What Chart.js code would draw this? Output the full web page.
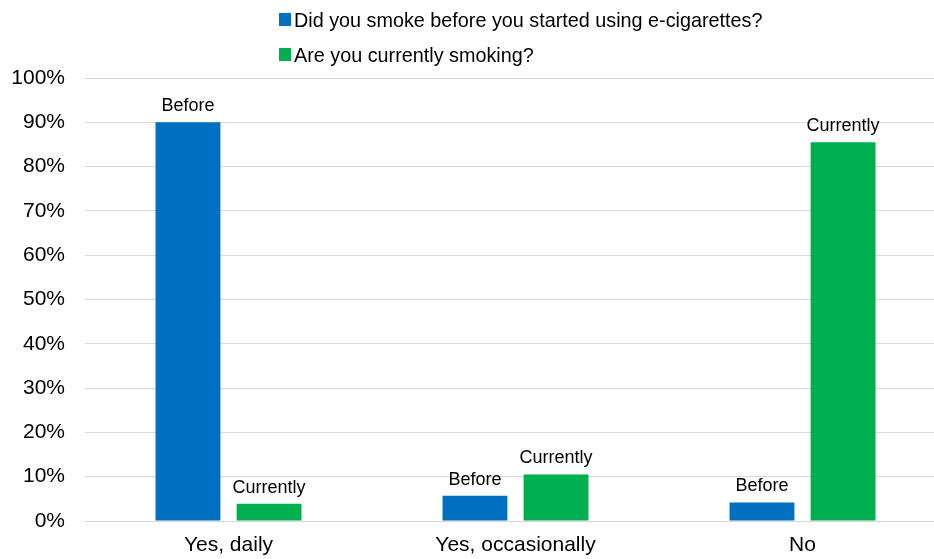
<!DOCTYPE html>
<html>
<head>
<meta charset="utf-8">
<script src="https://cdn.jsdelivr.net/npm/chart.js@4.4.1/dist/chart.umd.min.js"></script>
<style>
html,body{margin:0;padding:0;background:#fff;overflow:hidden;}
#wrap{position:relative;width:946px;height:559px;}
</style>
</head>
<body>
<div id="wrap"><canvas id="graph"></canvas></div>
<script>

// answers per category, in percent
let categories=["Yes, daily","Yes, occasionally","No"];
let beforeValues=[90,5.7,4.2];
let currentValues=[3.9,10.5,85.5];
let seriesNames=["Did you smoke before you started using e-cigarettes?","Are you currently smoking?"];
let barTags=["Before","Currently"];
let yTicks=[0,10,20,30,40,50,60,70,80,90,100];

let FONT="'Liberation Sans', Arial, Helvetica, sans-serif";

// small text tag above each bar
let barTagPlugin={
id:"barTags",
afterDatasetsDraw(chart){
let ctx=chart.ctx;
ctx.save();
ctx.font="18px "+FONT;
ctx.fillStyle="#000";
ctx.textAlign="center";
ctx.textBaseline="alphabetic";
chart.data.datasets.forEach((ds,i)=>{
chart.getDatasetMeta(i).data.forEach(bar=>{
ctx.fillText(barTags[i],bar.x,bar.y-11);
});
});
ctx.restore();
}
};

// two-row legend in the top band
let stackedLegend={
id:"stackedLegend",
afterDraw(chart){
let ctx=chart.ctx;
ctx.save();
ctx.font="19.8px "+FONT;
ctx.textBaseline="alphabetic";
ctx.textAlign="left";
chart.data.datasets.forEach((ds,i)=>{
let top=13+i*35;
ctx.fillStyle=ds.backgroundColor;
ctx.fillRect(279,top,12,13);
ctx.fillStyle="#000";
ctx.fillText(ds.label,294,top+13.5);
});
ctx.restore();
}
};

let chart=new Chart(document.getElementById("graph"),{

type:"bar",

data:{
labels:categories,
datasets:[
{
label:seriesNames[0],
data:beforeValues,
backgroundColor:"#0070C0"
},
{
label:seriesNames[1],
data:currentValues,
backgroundColor:"#00B050"
}
]
},

options:{
responsive:true,
maintainAspectRatio:false,
animation:false,
layout:{padding:{top:78,left:0,right:0,bottom:0}},
datasets:{bar:{categoryPercentage:0.565,barPercentage:0.8}},
plugins:{
legend:{display:false},
tooltip:{enabled:false}
},
scales:{
x:{
grid:{display:false},
border:{display:false},
afterFit(scale){
scale.height=38;
},
ticks:{
color:"#000",
padding:4,
maxRotation:0,
font:{family:FONT,size:21}
}
},
y:{
min:0,
max:100,
afterBuildTicks(scale){
scale.ticks=yTicks.map(v=>({value:v}));
},
afterFit(scale){
scale.width=85;
},
grid:{color:"#d9d9d9",lineWidth:1,drawTicks:false},
border:{display:false},
ticks:{
color:"#000",
padding:20,
font:{family:FONT,size:21},
callback:v=>v+"%"
}
}
}
},

plugins:[barTagPlugin,stackedLegend]

});

</script>
</body>
</html>
